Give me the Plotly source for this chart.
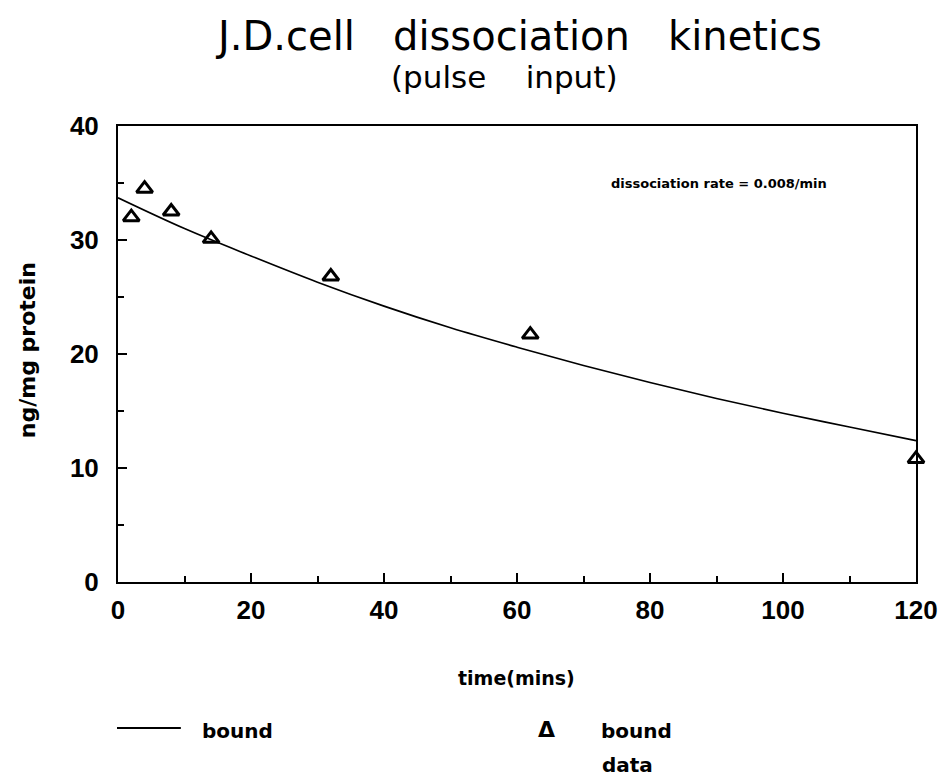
import plotly.graph_objects as go

# Observed data (bound data)
time_data = [2, 4, 8, 14, 32, 62, 120]
bound_data = [32.0, 34.5, 32.5, 30.1, 26.8, 21.7, 10.8]

# Fitted curve (bound)
time_fit = [0, 10, 20, 30, 40, 50, 60, 70, 80, 90, 100, 110, 120]
bound_fit = [33.7, 31.0, 28.6, 26.3, 24.2, 22.3, 20.6, 19.0, 17.5, 16.1, 14.8, 13.6, 12.4]

x_ticks = [0, 20, 40, 60, 80, 100, 120]
y_ticks = [0, 10, 20, 30, 40]

FONT = "Liberation Sans"
TFONT = "DejaVu Sans"

fig = go.Figure()
fig.add_trace(go.Scatter(x=time_fit, y=bound_fit, mode="lines",
                         line=dict(color="black", width=1.6, shape="spline"),
                         name="bound", showlegend=False, cliponaxis=False))
fig.add_trace(go.Scatter(x=time_data, y=bound_data, mode="markers",
                         marker=dict(symbol="triangle-up-open", size=14, color="black",
                                     line=dict(width=3, color="black")),
                         name="bound data", showlegend=False, cliponaxis=False))

axis_common = dict(showline=True, linecolor="black", linewidth=2, mirror=True, showgrid=False, zeroline=False,
                   ticks="inside", ticklen=9, tickwidth=2, tickcolor="black",
                   tickfont=dict(family=FONT, size=26, color="black", weight="bold"),
                   minor=dict(ticks="inside", ticklen=6, tickwidth=1.5, tickcolor="black", showgrid=False))

fig.update_xaxes(range=[0, 120], tickvals=x_ticks, ticktext=[str(v) for v in x_ticks], minor_dtick=10,
                 ticklabelstandoff=4, **axis_common)
fig.update_yaxes(range=[0, 40], tickvals=y_ticks, ticktext=[str(v) for v in y_ticks], minor_dtick=5,
                 ticklabelstandoff=12, **axis_common)

fig.update_layout(
    width=950, height=778,
    margin=dict(l=118, r=32, t=126, b=196),
    paper_bgcolor="white", plot_bgcolor="white",
    showlegend=False,
)


def px_x(px):
    return (px - 118) / (918 - 118)


def px_y(py):
    return (582 - py) / (582 - 126)


def add_text(text, x, y, size, family=TFONT, xanchor="center", angle=0, bold=True):
    fig.add_annotation(text=text, x=px_x(x), y=px_y(y), xref="paper", yref="paper", textangle=angle,
                       showarrow=False, xanchor=xanchor, yanchor="middle",
                       font=dict(family=family, size=size, color="black", weight="bold" if bold else "normal"))


add_text("J.D.cell   dissociation   kinetics", 520, 36, 40, bold=False)
add_text("(pulse    input)", 505, 77, 31, bold=False)
add_text("dissociation rate = 0.008/min", 721, 184, 13)
add_text("time(mins)", 517, 678, 19)
add_text("ng/mg protein", 27, 350, 22, angle=-90)
add_text("bound", 200, 731, 20, xanchor="left")
add_text("Δ", 548, 729, 22)
add_text("bound", 600, 731, 20, xanchor="left")
add_text("data", 601, 765, 20, xanchor="left")

fig.add_shape(type="line", xref="paper", yref="paper", x0=px_x(117), x1=px_x(181), y0=px_y(728), y1=px_y(728),
              line=dict(color="black", width=2))

fig.write_html("out.html")
